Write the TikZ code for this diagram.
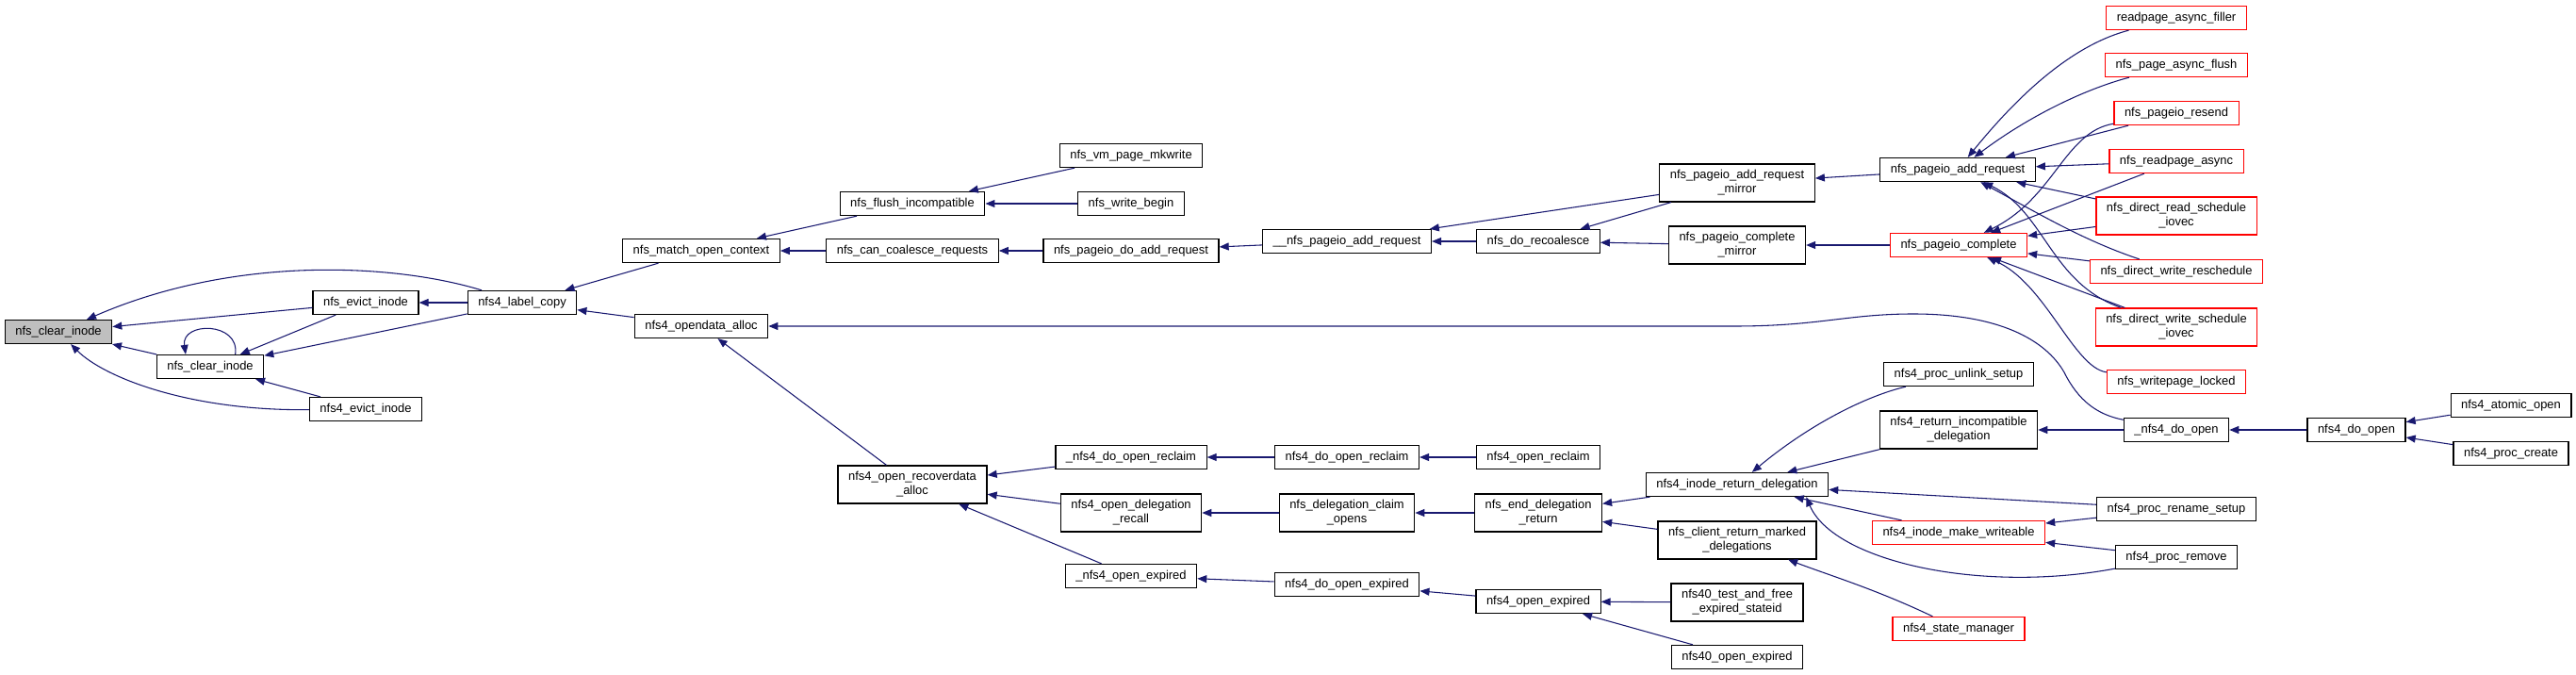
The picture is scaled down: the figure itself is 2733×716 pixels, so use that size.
\documentclass[tikz,border=0pt]{standalone}
\usepackage{fontspec}
\setmainfont{Liberation Sans}
\usetikzlibrary{arrows.meta}
\definecolor{edgeblue}{HTML}{191970}
\definecolor{rootgray}{HTML}{BFBFBF}

\begin{document}
\begin{tikzpicture}[x=0.75pt, y=-0.75pt, >={Triangle[length=7.5pt,width=6pt]},
  fn/.style={draw, rectangle, fill=white, line width=0.9pt, inner xsep=8.3pt, inner ysep=4.9pt,
    minimum height=18.75pt, align=center, font=\fontsize{9.7}{11.25}\selectfont},
  hot/.style={fn, draw=red},
  cg/.style={<-, draw=edgeblue, line width=0.8pt}]

\useasboundingbox (0,0) rectangle (2733,716);

% Define the nodes with coordinates
\node[fn, fill=rootgray] (CI) at (62,352) {nfs\_clear\_inode};
\node[fn] (CI2) at (223,389) {nfs\_clear\_inode};
\node[fn] (EI) at (388,321) {nfs\_evict\_inode};
\node[fn] (EI4) at (388,434) {nfs4\_evict\_inode};
\node[fn] (LC) at (554,321) {nfs4\_label\_copy};
\node[fn] (MOC) at (744,266) {nfs\_match\_open\_context};
\node[fn] (ODA) at (744,346) {nfs4\_opendata\_alloc};
\node[fn] (FI) at (968,216) {nfs\_flush\_incompatible};
\node[fn] (CCR) at (968,266) {nfs\_can\_coalesce\_requests};
\node[fn] (ORA) at (968,514) {nfs4\_open\_recoverdata\\\_alloc};
\node[fn] (VPM) at (1200,165) {nfs\_vm\_page\_mkwrite};
\node[fn] (WB) at (1200,216) {nfs\_write\_begin};
\node[fn] (PDAR) at (1200,266) {nfs\_pageio\_do\_add\_request};
\node[fn] (UDOR) at (1200,485) {\_nfs4\_do\_open\_reclaim};
\node[fn] (ODR) at (1200,544) {nfs4\_open\_delegation\\\_recall};
\node[fn] (UOE) at (1200,611) {\_nfs4\_open\_expired};
\node[fn] (UPAR) at (1429,256) {\_\_nfs\_pageio\_add\_request};
\node[fn] (DOR) at (1429,485) {nfs4\_do\_open\_reclaim};
\node[fn] (DCO) at (1429,544) {nfs\_delegation\_claim\\\_opens};
\node[fn] (DOE) at (1429,620) {nfs4\_do\_open\_expired};
\node[fn] (DR) at (1632,256) {nfs\_do\_recoalesce};
\node[fn] (OR) at (1632,485) {nfs4\_open\_reclaim};
\node[fn] (EDR) at (1632,544) {nfs\_end\_delegation\\\_return};
\node[fn] (OE) at (1632,638) {nfs4\_open\_expired};
\node[fn] (PARM) at (1843,194) {nfs\_pageio\_add\_request\\\_mirror};
\node[fn] (PCM) at (1843,260) {nfs\_pageio\_complete\\\_mirror};
\node[fn] (IRD) at (1843,514) {nfs4\_inode\_return\_delegation};
\node[fn] (CRMD) at (1843,573) {nfs\_client\_return\_marked\\\_delegations};
\node[fn] (TFES) at (1843,639) {nfs40\_test\_and\_free\\\_expired\_stateid};
\node[fn] (OE40) at (1843,697) {nfs40\_open\_expired};
\node[fn] (PAR) at (2077,180) {nfs\_pageio\_add\_request};
\node[hot] (PC) at (2078,260) {nfs\_pageio\_complete};
\node[fn] (PUS) at (2078,397) {nfs4\_proc\_unlink\_setup};
\node[fn] (RID) at (2078,456) {nfs4\_return\_incompatible\\\_delegation};
\node[hot] (IMW) at (2078,565) {nfs4\_inode\_make\_writeable};
\node[hot] (SM) at (2078,667) {nfs4\_state\_manager};
\node[hot] (RAF) at (2309,19) {readpage\_async\_filler};
\node[hot] (PAF) at (2309,69) {nfs\_page\_async\_flush};
\node[hot] (PR) at (2309,120) {nfs\_pageio\_resend};
\node[hot] (RA) at (2309,171) {nfs\_readpage\_async};
\node[hot] (DRSI) at (2309,229) {nfs\_direct\_read\_schedule\\\_iovec};
\node[hot] (DWR) at (2309,288) {nfs\_direct\_write\_reschedule};
\node[hot] (DWSI) at (2309,347) {nfs\_direct\_write\_schedule\\\_iovec};
\node[hot] (WPL) at (2309,405) {nfs\_writepage\_locked};
\node[fn] (UDO) at (2309,456) {\_nfs4\_do\_open};
\node[fn] (PRS) at (2309,540) {nfs4\_proc\_rename\_setup};
\node[fn] (PRM) at (2309,591) {nfs4\_proc\_remove};
\node[fn] (DO) at (2500,456) {nfs4\_do\_open};
\node[fn] (AO) at (2664,430) {nfs4\_atomic\_open};
\node[fn] (PCR) at (2664,481) {nfs4\_proc\_create};

% Draw the call edges
\draw[cg] (CI) .. controls (250,270) and (420,280) .. (LC);
\draw[cg] (CI) -- (EI);
\draw[cg] (CI) -- (CI2);
\draw[cg] (CI) .. controls (110,400) and (200,436) .. (EI4);
\draw[cg] ([xshift=-19.5pt]CI2.north) .. controls +(-5,-35) and +(5,-35) .. ([xshift=20pt]CI2.north);
\draw[cg] (CI2) -- (EI);
\draw[cg] (CI2) -- (LC);
\draw[cg] (CI2) -- (EI4);
\draw[cg] (EI) -- (LC);
\draw[cg] (LC) -- (MOC);
\draw[cg] (LC) -- (ODA);
\draw[cg] (MOC) -- (FI);
\draw[cg] (MOC) -- (CCR);
\draw[cg] (FI) -- (VPM);
\draw[cg] (FI) -- (WB);
\draw[cg] (CCR) -- (PDAR);
\draw[cg] (PDAR) -- (UPAR);
\draw[cg] (UPAR) -- (PARM);
\draw[cg] (UPAR) -- (DR);
\draw[cg] (DR) -- (PARM);
\draw[cg] (DR) -- (PCM);
\draw[cg] (PARM) -- (PAR);
\draw[cg] (PCM) -- (PC);
\draw[cg] (PAR) .. controls (2130,115) and (2190,50) .. (RAF);
\draw[cg] (PAR) .. controls (2150,125) and (2210,95) .. (PAF);
\draw[cg] (PAR) -- (PR);
\draw[cg] (PAR) -- (RA);
\draw[cg] (PAR) -- (DRSI);
\draw[cg] (PAR) .. controls (2160,225) and (2210,255) .. (DWR);
\draw[cg] (PAR) .. controls (2170,225) and (2175,300) .. (DWSI);
\draw[cg] (PC) .. controls (2180,210) and (2190,140) .. (PR);
\draw[cg] (PC) -- (RA);
\draw[cg] (PC) -- (DRSI);
\draw[cg] (PC) -- (DWR);
\draw[cg] (PC) -- (DWSI);
\draw[cg] (PC) .. controls (2170,300) and (2200,390) .. (WPL);
\draw[cg] (ODA) -- (1840,346) .. controls (1930,346) and (1960,333) .. (2030,333)
  .. controls (2120,333) and (2170,360) .. (2190,395) .. controls (2205,425) and (2225,440) .. (UDO);
\draw[cg] (ODA) -- (ORA);
\draw[cg] (ORA) -- (UDOR);
\draw[cg] (ORA) -- (ODR);
\draw[cg] (ORA) -- (UOE);
\draw[cg] (UDOR) -- (DOR);
\draw[cg] (DOR) -- (OR);
\draw[cg] (ODR) -- (DCO);
\draw[cg] (DCO) -- (EDR);
\draw[cg] (EDR) -- (IRD);
\draw[cg] (EDR) -- (CRMD);
\draw[cg] (IRD) .. controls (1920,450) and (1980,420) .. (PUS);
\draw[cg] (IRD) -- (RID);
\draw[cg] (IRD) -- (PRS);
\draw[cg] (IRD) -- (IMW);
\draw[cg] ([xshift=-18pt]IRD.south east) .. controls (1945,595) and (2100,630) .. (PRM);
\draw[cg] (RID) -- (UDO);
\draw[cg] (IMW) -- (PRS);
\draw[cg] (IMW) -- (PRM);
\draw[cg] (CRMD) .. controls (1940,610) and (1990,625) .. (SM);
\draw[cg] (UDO) -- (DO);
\draw[cg] (DO) -- (AO);
\draw[cg] (DO) -- (PCR);
\draw[cg] (UOE) -- (DOE);
\draw[cg] (DOE) -- (OE);
\draw[cg] (OE) -- (TFES);
\draw[cg] (OE) -- (OE40);

\end{tikzpicture}
\end{document}
